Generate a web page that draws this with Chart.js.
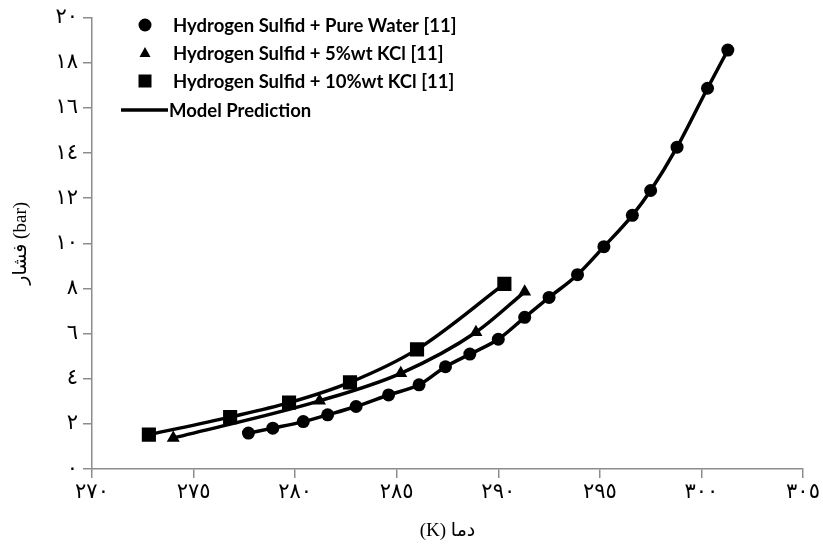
<!DOCTYPE html>
<html>
<head>
<meta charset="utf-8">
<script src="https://cdn.jsdelivr.net/npm/chart.js@4.4.1/dist/chart.umd.min.js"></script>
<style>
  html, body { margin: 0; padding: 0; background: #fff; }
  #wrap { width: 823px; height: 546px; }
</style>
</head>
<body>
<div id="wrap"><canvas id="myChart" width="823" height="546"></canvas></div>
<script>
// H2S + pure water
const waterT = [277.7, 278.9, 280.4, 281.6, 283.0, 284.6, 286.1, 287.4, 288.6, 290.0,
                291.3, 292.5, 293.9, 295.2, 296.6, 297.5, 298.8, 300.3, 301.3];
const waterP = [1.59, 1.81, 2.10, 2.40, 2.77, 3.28, 3.73, 4.53, 5.09, 5.75,
                6.72, 7.60, 8.61, 9.85, 11.24, 12.34, 14.26, 16.87, 18.56];

// H2S + 5%wt KCl
const kcl5T = [274.0, 281.2, 285.2, 288.9, 291.3];
const kcl5P = [1.37, 3.02, 4.24, 6.06, 7.85];

// H2S + 10%wt KCl
const kcl10T = [272.8, 276.8, 279.7, 282.7, 286.0, 290.3];
const kcl10P = [1.52, 2.30, 2.94, 3.84, 5.30, 8.20];

const legendLabels = [
    'Hydrogen Sulfid + Pure Water [11]',
    'Hydrogen Sulfid + 5%wt KCl [11]',
    'Hydrogen Sulfid + 10%wt KCl [11]',
    'Model Prediction'
];

const xTitle = '(K) دما';
const yTitle = 'فشار (bar)';

const axisGrey = '#8c8c8c';
const tickFont = '"Liberation Serif", "DejaVu Sans", serif';

function toArabicDigits(n) {
    return String(n).replace(/\d/g, d => '٠١٢٣٤٥٦٧٨٩'[d]);
}

function pairs(xs, ys) {
    return xs.map((x, i) => ({ x: x, y: ys[i] }));
}

// legend drawn inside the plot area, top left
const insideLegend = {
    id: 'insideLegend',
    afterDraw(chart) {
        const ctx = chart.ctx;
        const mx = 145;
        const rows = [25, 53, 81, 110];
        ctx.save();
        ctx.fillStyle = '#000';
        ctx.strokeStyle = '#000';

        ctx.beginPath();
        ctx.arc(mx, rows[0], 6.5, 0, Math.PI * 2);
        ctx.fill();

        ctx.beginPath();
        ctx.moveTo(mx, rows[1] - 6);
        ctx.lineTo(mx + 5.5, rows[1] + 4);
        ctx.lineTo(mx - 5.5, rows[1] + 4);
        ctx.closePath();
        ctx.fill();

        ctx.fillRect(mx - 6.5, rows[2] - 6.5, 13, 13);

        ctx.lineWidth = 3.5;
        ctx.beginPath();
        ctx.moveTo(121, rows[3]);
        ctx.lineTo(168, rows[3]);
        ctx.stroke();

        ctx.font = 'bold 18.5px Lato, "Open Sans", sans-serif';
        ctx.textBaseline = 'middle';
        ctx.textAlign = 'left';
        ctx.fillText(legendLabels[0], 173, rows[0] + 1);
        ctx.fillText(legendLabels[1], 173, rows[1] + 1);
        ctx.fillText(legendLabels[2], 173, rows[2] + 1);
        ctx.fillText(legendLabels[3], 169, rows[3] + 1);
        ctx.restore();
    }
};

const lineStyle = {
    borderColor: '#000',
    backgroundColor: '#000',
    borderWidth: 3.5,
    pointBorderWidth: 0,
    cubicInterpolationMode: 'monotone',
    fill: false
};

const ctx = document.getElementById('myChart').getContext('2d');
const myChart = new Chart(ctx, {
    type: 'line',
    data: {
        datasets: [
            Object.assign({
                label: legendLabels[0],
                data: pairs(waterT, waterP),
                pointStyle: 'circle',
                pointRadius: 6.5
            }, lineStyle),
            Object.assign({
                label: legendLabels[1],
                data: pairs(kcl5T, kcl5P),
                pointStyle: 'triangle',
                pointRadius: 7.5
            }, lineStyle),
            Object.assign({
                label: legendLabels[2],
                data: pairs(kcl10T, kcl10P),
                pointStyle: 'rect',
                pointRadius: 10
            }, lineStyle)
        ]
    },
    options: {
        responsive: false,
        animation: false,
        events: [],
        layout: { padding: { top: 16, right: 20, left: 0, bottom: 0 } },
        plugins: {
            legend: { display: false },
            tooltip: { enabled: false }
        },
        scales: {
            x: {
                type: 'linear',
                min: 270,
                max: 305,
                afterFit(scale) { scale.height = 77; },
                ticks: {
                    stepSize: 5,
                    color: '#000',
                    padding: 2,
                    maxRotation: 0,
                    font: { family: tickFont, size: 21 },
                    callback: v => toArabicDigits(v)
                },
                grid: { drawOnChartArea: false, drawTicks: true, tickLength: 9, color: axisGrey, lineWidth: 1.5 },
                border: { color: axisGrey, width: 1.5 },
                title: {
                    display: true,
                    text: xTitle,
                    color: '#000',
                    font: { family: tickFont, size: 19 },
                    padding: { top: 4, bottom: 4 }
                }
            },
            y: {
                min: 0,
                max: 20,
                afterFit(scale) { scale.width = 92; },
                ticks: {
                    stepSize: 2,
                    color: '#000',
                    padding: 5,
                    font: { family: tickFont, size: 21 },
                    callback: v => toArabicDigits(v)
                },
                grid: { drawOnChartArea: false, drawTicks: true, tickLength: 9, color: axisGrey, lineWidth: 1.5 },
                border: { color: axisGrey, width: 1.5 },
                title: {
                    display: true,
                    text: yTitle,
                    color: '#000',
                    font: { family: tickFont, size: 19 },
                    padding: { top: 10, bottom: 4 }
                }
            }
        }
    },
    plugins: [insideLegend]
});
</script>
</body>
</html>
